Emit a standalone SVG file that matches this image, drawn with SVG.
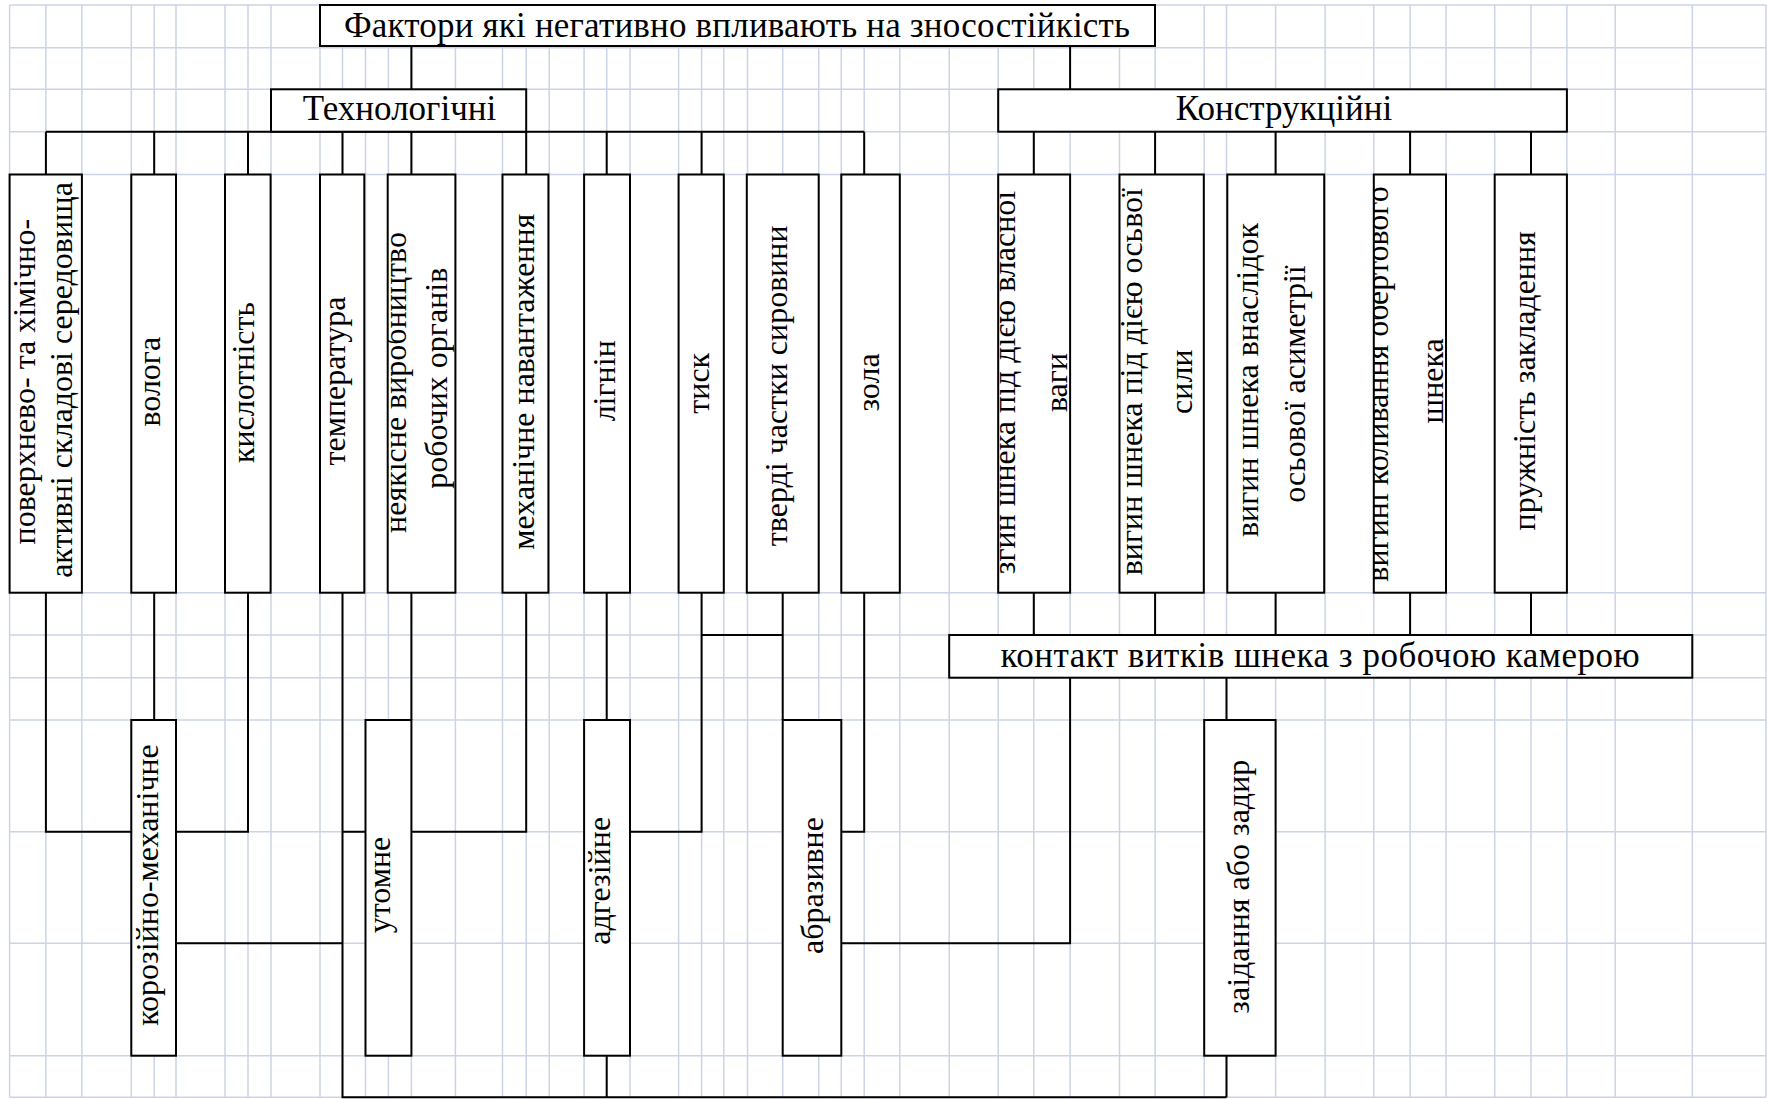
<svg xmlns="http://www.w3.org/2000/svg" width="1767" height="1099" viewBox="0 0 1767 1099">
<style>
.grid{stroke:#cbd4e6;stroke-width:1.5;fill:none}
.box{fill:#fff;stroke:#000;stroke-width:2}
.con{stroke:#000;stroke-width:2;fill:none}
text{font-family:"Liberation Serif","Times New Roman",serif;fill:#000}
.h{font-size:35px}
.v{font-size:32px;text-anchor:middle}
</style>
<defs>
<clipPath id="c1"><rect x="9.6" y="174.5" width="72.3" height="418.2"/></clipPath>
<clipPath id="c5"><rect x="387.7" y="174.5" width="67.7" height="418.2"/></clipPath>
<clipPath id="c11"><rect x="998.2" y="174.5" width="71.9" height="418.2"/></clipPath>
<clipPath id="c12"><rect x="1119.5" y="174.5" width="84.3" height="418.2"/></clipPath>
<clipPath id="c13"><rect x="1227.3" y="174.5" width="96.9" height="418.2"/></clipPath>
<clipPath id="c14"><rect x="1373.8" y="174.5" width="72.2" height="418.2"/></clipPath>
</defs>
<rect width="1767" height="1099" fill="#fff"/>
<g id="grid">
<path class="grid" d="M9.6,5V1097.3M45.9,5V1097.3M81.9,5V1097.3M131.3,5V1097.3M154.2,5V1097.3M176,5V1097.3M225,5V1097.3M248,5V1097.3M271,5V1097.3M320,5V1097.3M342.5,5V1097.3M365.5,5V1097.3M388.4,5V1097.3M411.4,5V1097.3M455.4,5V1097.3M502.5,5V1097.3M526.2,5V1097.3M549.2,5V1097.3M584.1,5V1097.3M606.7,5V1097.3M630,5V1097.3M678.6,5V1097.3M701.6,5V1097.3M723.8,5V1097.3M747.5,5V1097.3M782.7,5V1097.3M818.7,5V1097.3M841.3,5V1097.3M864.2,5V1097.3M899.8,5V1097.3M949.2,5V1097.3M998.2,5V1097.3M1033.8,5V1097.3M1070.1,5V1097.3M1119.5,5V1097.3M1155.1,5V1097.3M1204.2,5V1097.3M1226.5,5V1097.3M1275.6,5V1097.3M1325.1,5V1097.3M1373.8,5V1097.3M1410.1,5V1097.3M1446,5V1097.3M1494.7,5V1097.3M1531,5V1097.3M1566.9,5V1097.3M1615.2,5V1097.3M1692.3,5V1097.3M1766,5V1097.3"/>
<path class="grid" d="M9.6,5H1766M9.6,47.7H1766M9.6,89.3H1766M9.6,131.7H1766M9.6,174.5H1766M9.6,592.7H1766M9.6,635H1766M9.6,677.7H1766M9.6,720H1766M9.6,831.7H1766M9.6,943.3H1766M9.6,1055.7H1766M9.6,1097.3H1766"/>
</g>
<g id="connectors">
<path class="con" d="M411.4,46V89.3M1070.1,46V89.3M45.9,131.7H864.2M45.9,131.7V174.5M154.2,131.7V174.5M248,131.7V174.5M342.5,131.7V174.5M411.4,131.7V174.5M526.2,131.7V174.5M606.7,131.7V174.5M701.6,131.7V174.5M864.2,131.7V174.5M1033.8,131.7V174.5M1155.1,131.7V174.5M1275.6,131.7V174.5M1410.1,131.7V174.5M1531,131.7V174.5"/>
<path class="con" d="M45.9,592.7V831.7H131.3M154.2,592.7V720M248,592.7V831.7H176M176,943.3H342.5M342.5,592.7V1097.3H1226.5M342.5,831.7H365.5M411.4,592.7V720M411.4,831.7H526.2V592.7M606.7,592.7V720M606.7,1055.7V1097.3M630,831.7H701.6V592.7M701.6,635H782.7M782.7,592.7V720M841.3,831.7H864.2V592.7M841.3,943.3H1070.1V677.7M1033.8,592.7V635M1155.1,592.7V635M1275.6,592.7V635M1410.1,592.7V635M1531,592.7V635M1226.5,677.7V720M1226.5,1055.7V1097.3"/>
</g>
<g id="n-title"><rect class="box" x="320" y="5" width="835" height="41"/><text class="h" x="344" y="37.3" textLength="786" lengthAdjust="spacing">Фактори які негативно впливають на зносостійкість</text></g>
<g id="n-tech"><rect class="box" x="271" y="89.3" width="255.2" height="42.4"/><text class="h" x="399.5" y="120" text-anchor="middle">Технологічні</text></g>
<g id="n-constr"><rect class="box" x="998.2" y="89.3" width="568.7" height="42.4"/><text class="h" x="1284" y="120" text-anchor="middle">Конструкційні</text></g>
<g id="n-surface"><rect class="box" x="9.6" y="174.5" width="72.3" height="418.2"/><g clip-path="url(#c1)"><text class="v" transform="translate(35.2,381.7) rotate(-90)">поверхнево- та хімічно-</text><text class="v" transform="translate(72,380) rotate(-90)">активні складові середовища</text></g></g>
<g id="n-moisture"><rect class="box" x="131.3" y="174.5" width="44.7" height="418.2"/><text class="v" transform="translate(159.7,381.7) rotate(-90)">волога</text></g>
<g id="n-acidity"><rect class="box" x="225" y="174.5" width="45.6" height="418.2"/><text class="v" transform="translate(254,382.5) rotate(-90)">кислотність</text></g>
<g id="n-temperature"><rect class="box" x="320" y="174.5" width="44.3" height="418.2"/><text class="v" transform="translate(344.5,381) rotate(-90)">температура</text></g>
<g id="n-manufacturing"><rect class="box" x="387.7" y="174.5" width="67.7" height="418.2"/><g clip-path="url(#c5)"><text class="v" transform="translate(406,382.5) rotate(-90)">неякісне виробництво</text><text class="v" transform="translate(447,378.3) rotate(-90)">робочих органів</text></g></g>
<g id="n-mechload"><rect class="box" x="502.5" y="174.5" width="45.9" height="418.2"/><text class="v" transform="translate(534,381.7) rotate(-90)">механічне навантаження</text></g>
<g id="n-lignin"><rect class="box" x="584.1" y="174.5" width="45.9" height="418.2"/><text class="v" transform="translate(615,380.8) rotate(-90)">лігнін</text></g>
<g id="n-pressure"><rect class="box" x="678.6" y="174.5" width="45.2" height="418.2"/><text class="v" transform="translate(709,383.3) rotate(-90)">тиск</text></g>
<g id="n-solids"><rect class="box" x="746.8" y="174.5" width="71.9" height="418.2"/><text class="v" transform="translate(787,385.8) rotate(-90)">тверді частки сировини</text></g>
<g id="n-ash"><rect class="box" x="841.3" y="174.5" width="58.5" height="418.2"/><text class="v" transform="translate(879,382.5) rotate(-90)">зола</text></g>
<g id="n-bend-weight"><rect class="box" x="998.2" y="174.5" width="71.9" height="418.2"/><g clip-path="url(#c11)"><text class="v" transform="translate(1015,382.5) rotate(-90)">згин шнека під дією власної</text><text class="v" transform="translate(1067,382.5) rotate(-90)">ваги</text></g></g>
<g id="n-bend-axial"><rect class="box" x="1119.5" y="174.5" width="84.3" height="418.2"/><g clip-path="url(#c12)"><text class="v" transform="translate(1142,381.7) rotate(-90)">вигин шнека під дією осьвої</text><text class="v" transform="translate(1192,381.7) rotate(-90)">сили</text></g></g>
<g id="n-bend-asym"><rect class="box" x="1227.3" y="174.5" width="96.9" height="418.2"/><g clip-path="url(#c13)"><text class="v" transform="translate(1258,380) rotate(-90)">вигин шнека внаслідок</text><text class="v" transform="translate(1305,384) rotate(-90)">осьової асиметрії</text></g></g>
<g id="n-bend-vibr"><rect class="box" x="1373.8" y="174.5" width="72.2" height="418.2"/><g clip-path="url(#c14)"><text class="v" transform="translate(1388,384) rotate(-90)">вигині коливання обертового</text><text class="v" transform="translate(1443,380.8) rotate(-90)">шнека</text></g></g>
<g id="n-elastic"><rect class="box" x="1494.7" y="174.5" width="72.2" height="418.2"/><text class="v" transform="translate(1535,380.8) rotate(-90)">пружність закладення</text></g>
<g id="n-contact"><rect class="box" x="949.2" y="635" width="743.1" height="42.7"/><text class="h" x="1000.6" y="667" textLength="639" lengthAdjust="spacing">контакт витків шнека з робочою камерою</text></g>
<g id="n-corrosion"><rect class="box" x="131.3" y="720" width="44.7" height="335.7"/><text class="v" transform="translate(158,885) rotate(-90)">корозійно-механічне</text></g>
<g id="n-fatigue"><rect class="box" x="365.5" y="720" width="45.9" height="335.7"/><text class="v" transform="translate(390,885) rotate(-90)">утомне</text></g>
<g id="n-adhesive"><rect class="box" x="584.1" y="720" width="45.9" height="335.7"/><text class="v" transform="translate(610,880.8) rotate(-90)">адгезійне</text></g>
<g id="n-abrasive"><rect class="box" x="782.7" y="720" width="58.6" height="335.7"/><text class="v" transform="translate(823,885.5) rotate(-90)">абразивне</text></g>
<g id="n-seizure"><rect class="box" x="1204.2" y="720" width="71.4" height="335.7"/><text class="v" transform="translate(1249,886.7) rotate(-90)">заідання або задир</text></g>
</svg>
